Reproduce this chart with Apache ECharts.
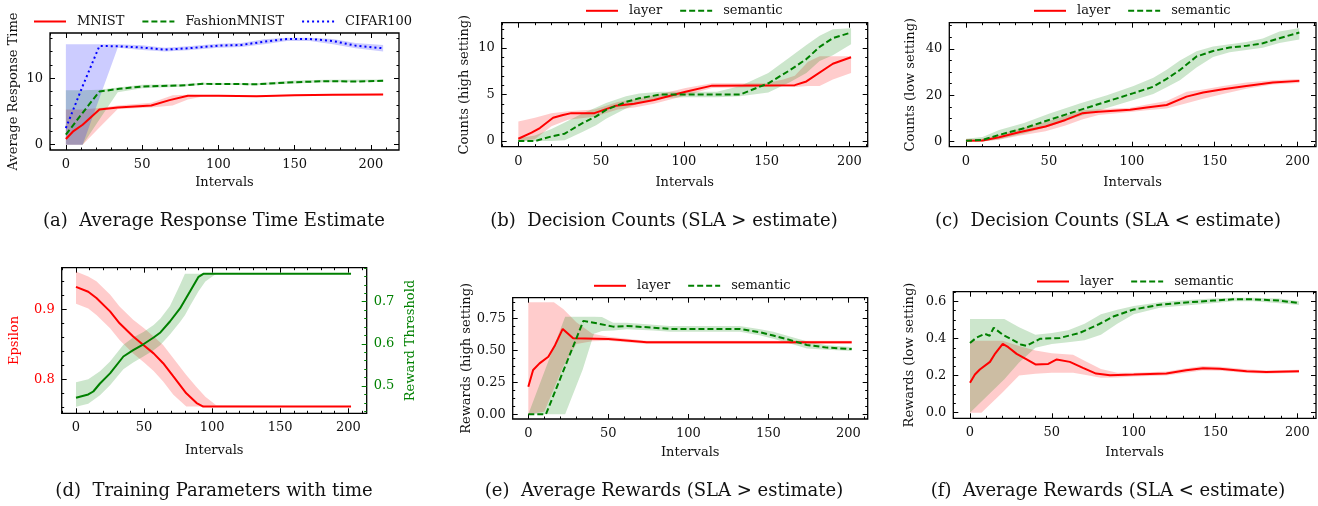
<!DOCTYPE html>
<html><head><meta charset="utf-8">
<script src="https://cdn.jsdelivr.net/npm/echarts@6/dist/echarts.min.js"></script>
<style>html,body{margin:0;padding:0;background:#fff}#c{width:1318px;height:506px}</style>
</head><body><div id="c"></div><script>
// ---------------- DATA ----------------
const xTicks = [0, 50, 100, 150, 200];
const aYTicks = [0, 10];
const bYTicks = [0, 5, 10];
const cYTicks = [0, 20, 40];
const dYTicks = [0.8, 0.9];
const dY2Ticks = [0.5, 0.6, 0.7];
const eYTicks = [0, 0.25, 0.5, 0.75];
const fYTicks = [0, 0.2, 0.4, 0.6];

const aLegend = ['MNIST', 'FashionMNIST', 'CIFAR100'];
const pairLegend = ['layer', 'semantic'];
const captions = [
  '(a)  Average Response Time Estimate',
  '(b)  Decision Counts (SLA > estimate)',
  '(c)  Decision Counts (SLA < estimate)',
  '(d)  Training Parameters with time',
  '(e)  Average Rewards (SLA > estimate)',
  '(f)  Average Rewards (SLA < estimate)'
];

// (a) [interval, value]; bands [interval, low, high]
const aMnist = [[0,0.85],[5,2.05],[11,3.0],[22,5.3],[34,5.6],[56,5.9],[68,6.7],[80,7.35],[100,7.35],[125,7.3],[150,7.45],[175,7.5],[208,7.55]];
const aFashion = [[0,1.5],[11,4.8],[22,8.0],[35,8.4],[50,8.75],[75,8.9],[90,9.15],[125,9.1],[150,9.4],[170,9.55],[190,9.5],[208,9.6]];
const aCifar = [[0,2.5],[11,8.8],[22,14.85],[35,14.8],[50,14.6],[65,14.3],[80,14.5],[100,14.9],[115,15.0],[130,15.5],[145,15.9],[160,15.9],[175,15.6],[190,14.9],[208,14.5]];
const aMnistBand = [[0,0,5.3],[11,0,5.3],[22,2.6,5.5],[34,5.35,5.9],[56,5.6,6.3],[70,5.9,7.45],[80,6.8,7.5],[90,7.25,7.45],[100,7.25,7.45],[125,7.2,7.4],[150,7.35,7.55],[175,7.4,7.6],[208,7.45,7.65]];
const aFashionBand = [[0,0,8.2],[11,0,8.2],[22,3.8,8.25],[34,7.9,8.6],[50,8.5,9.0],[75,8.7,9.1],[90,9.0,9.3],[125,8.95,9.25],[150,9.2,9.65],[170,9.4,9.75],[208,9.45,9.8]];
const aCifarBand = [[0,0,15.1],[11,0,15.1],[22,7.0,15.1],[34,14.6,15.1],[50,14.25,14.95],[65,14.0,14.6],[80,14.2,14.8],[100,14.6,15.2],[115,14.7,15.3],[130,15.1,15.85],[145,15.6,16.1],[160,15.6,16.1],[175,15.1,15.9],[190,14.5,15.3],[208,14.0,15.0]];

// (b)
const bLayer = [[0,0.25],[8,0.9],[13,1.4],[21,2.5],[27,2.8],[32,3.0],[46,3.0],[59,3.8],[70,4.0],[82,4.4],[101,5.3],[117,5.95],[167,6.0],[174,6.4],[190,8.3],[201,9.0]];
const bSemantic = [[0,0],[10,0],[20,0.5],[28,0.8],[39,1.95],[47,2.65],[53,3.35],[65,4.2],[73,4.6],[86,5.0],[134,5.0],[151,6.2],[164,7.6],[174,8.8],[182,10.1],[190,11.05],[201,11.65]];
const bLayerBand = [[0,0,2.1],[10,0.2,2.5],[20,1.6,3.0],[30,2.3,3.2],[46,2.6,3.4],[60,3.4,4.2],[70,3.6,4.5],[82,4.0,4.9],[101,4.9,5.7],[117,5.7,6.2],[150,5.8,6.2],[160,5.85,6.6],[167,5.8,7.0],[175,5.9,8.5],[182,5.9,9.1],[190,6.6,9.1],[201,7.3,9.1]];
const bSemanticBand = [[0,0,0.3],[10,0,0.6],[20,0,1.3],[28,0.1,2.0],[39,1.0,3.0],[47,1.7,3.6],[53,2.4,4.1],[65,3.5,4.8],[73,4.1,5.1],[86,4.6,5.3],[100,4.7,5.3],[120,4.7,5.3],[134,4.8,5.9],[151,5.2,7.3],[164,6.3,9.0],[174,7.3,10.3],[182,8.6,11.3],[190,9.2,12.0],[201,10.4,12.1]];

// (c)
const cLayer = [[0,0.4],[10,0.45],[20,1.9],[32,4.0],[48,6.5],[60,9.35],[70,12.2],[80,12.9],[99,13.7],[109,14.7],[121,15.8],[133,19.4],[143,21.2],[155,22.6],[169,24.0],[185,25.5],[201,26.2]];
const cSemantic = [[0,0.4],[10,0.7],[20,2.9],[35,5.75],[50,9.35],[69,13.7],[85,17.3],[101,20.9],[113,23.7],[121,27.05],[129,30.9],[139,36.7],[149,39.1],[159,40.6],[169,41.3],[179,42.4],[189,44.6],[201,47.05]];
const cLayerBand = [[0,0,0.9],[10,0,1.2],[20,0.8,3.0],[32,2.5,5.5],[48,4.5,8.5],[60,7.0,11.0],[70,9.5,13.5],[80,11.5,14.0],[99,12.8,14.6],[109,13.5,16.0],[121,14.3,17.5],[133,16.5,21.5],[143,18.5,22.5],[155,20.5,24.0],[169,22.8,25.5],[185,24.6,26.5],[201,25.3,27.0]];
const cSemanticBand = [[0,0,1.2],[10,0,2.0],[20,1.0,5.0],[35,3.5,8.0],[50,6.5,12.0],[69,11.0,16.5],[85,14.5,20.0],[101,18.0,24.0],[113,20.5,27.5],[121,23.5,31.0],[129,26.5,35.0],[139,32.0,39.0],[149,36.5,41.0],[159,38.5,42.0],[169,39.5,43.0],[179,40.5,44.5],[189,42.5,47.5],[201,44.0,49.0]];

// (d)
const dEpsilon = [[0,0.932],[9,0.925],[15,0.916],[25,0.897],[32,0.880],[42,0.861],[49.5,0.849],[57,0.837],[64,0.823],[71.5,0.804],[81,0.780],[88.6,0.766],[93.5,0.761],[202,0.761]];
const dThreshold = [[0,0.472],[9,0.480],[12.7,0.487],[17.6,0.506],[25,0.530],[34.8,0.570],[42,0.585],[49.5,0.599],[57,0.615],[62,0.627],[69,0.653],[76.4,0.684],[83.7,0.724],[90,0.759],[93.5,0.766],[202,0.766]];
const dEpsilonBand = [[0,0.908,0.954],[9,0.901,0.947],[15,0.892,0.94],[25,0.873,0.921],[32,0.856,0.904],[42,0.837,0.885],[50,0.824,0.873],[57,0.812,0.861],[64,0.797,0.849],[71.5,0.778,0.830],[81,0.761,0.806],[88,0.761,0.790],[95,0.761,0.775],[103,0.761,0.763],[202,0.761,0.761]];
const dThresholdBand = [[0,0.451,0.509],[9,0.458,0.516],[17.6,0.478,0.535],[25,0.502,0.558],[34.8,0.540,0.598],[42,0.556,0.615],[49.5,0.570,0.628],[57,0.585,0.645],[62,0.597,0.660],[69,0.622,0.690],[76.4,0.652,0.740],[80,0.668,0.766],[83.7,0.690,0.766],[90,0.725,0.766],[95,0.748,0.766],[103,0.766,0.766],[202,0.766,0.766]];

// (e)
const eLayer = [[0,0.216],[3,0.346],[7,0.398],[12.5,0.45],[16.7,0.54],[21.5,0.667],[28,0.594],[50,0.589],[74,0.5625],[202,0.5625]];
const eSemantic = [[0,0],[11,0],[34.4,0.73],[42.7,0.711],[53,0.685],[61.5,0.69],[78,0.677],[88.5,0.667],[132,0.667],[145,0.64],[153,0.615],[165.6,0.573],[174,0.542],[186.5,0.521],[202,0.51]];
const eLayerBand = [[0,0,0.875],[10,0.02,0.875],[16,0.2,0.875],[22,0.38,0.82],[30,0.55,0.72],[40,0.57,0.63],[50,0.575,0.605],[74,0.55,0.575],[202,0.55,0.575]];
const eSemanticBand = [[0,0,0],[23,0,0.763],[34,0.35,0.763],[41,0.63,0.763],[46,0.65,0.76],[53,0.655,0.715],[61.5,0.665,0.715],[78,0.655,0.70],[88.5,0.645,0.69],[132,0.645,0.69],[145,0.615,0.665],[153,0.59,0.645],[165.6,0.545,0.6],[174,0.515,0.57],[186.5,0.505,0.54],[202,0.495,0.525]];

// (f)
const fLayer = [[0,0.161],[3,0.206],[6,0.233],[12.2,0.274],[15,0.314],[20,0.371],[23.4,0.353],[28.5,0.317],[34.6,0.287],[40,0.26],[47.8,0.263],[53,0.287],[61,0.274],[69,0.242],[77,0.211],[85.5,0.2025],[100,0.206],[120,0.211],[132,0.229],[142.4,0.24],[152.6,0.2366],[169,0.224],[181,0.219],[201,0.224]];
const fSemantic = [[0,0.376],[4,0.405],[9,0.425],[12,0.415],[14.5,0.458],[20,0.42],[26,0.393],[31,0.368],[34.5,0.36],[42.7,0.398],[55,0.403],[67,0.43],[79,0.478],[88,0.52],[100,0.556],[116,0.582],[128,0.591],[148.5,0.604],[160.7,0.611],[173,0.611],[189,0.604],[201,0.591]];
const fLayerBand = [[0,0,0.388],[7,0,0.388],[20,0.11,0.388],[30,0.2,0.36],[40,0.21,0.335],[50,0.215,0.32],[63,0.215,0.313],[70,0.205,0.28],[80,0.188,0.235],[90,0.19,0.215],[100,0.195,0.215],[120,0.2,0.222],[132,0.215,0.24],[142,0.228,0.252],[153,0.226,0.248],[169,0.214,0.234],[181,0.21,0.228],[201,0.215,0.232]];
const fSemanticBand = [[0,0,0.505],[21,0.18,0.505],[30,0.27,0.46],[40,0.35,0.42],[50,0.37,0.43],[60,0.38,0.445],[70,0.39,0.48],[80,0.42,0.53],[90,0.48,0.555],[100,0.53,0.575],[116,0.565,0.595],[128,0.575,0.605],[148,0.59,0.615],[161,0.6,0.62],[173,0.6,0.62],[189,0.59,0.615],[201,0.58,0.6]];

// ---------------- STYLE / LAYOUT ----------------
const FONT = 'DejaVu Serif';
const TXT = '#111';
const RED = '#ff0000', GREEN = '#008000', BLUE = '#0000ff';
const RED_F = 'rgba(255,0,0,0.2)', GREEN_F = 'rgba(0,128,0,0.2)', BLUE_F = 'rgba(0,0,255,0.2)';
const DASH = [6, 3], DOT = [2, 3];

const grids = [], xAxes = [], yAxes = [], series = [], legends = [], graphics = [];

function minorVals(min, max, step, majors) {
  const out = [];
  const s = Math.ceil(min / step - 1e-9), e = Math.floor(max / step + 1e-9);
  for (let k = s; k <= e; k++) {
    const v = +(k * step).toFixed(6);
    if (!majors.some(m => Math.abs(m - v) < step * 1e-3)) out.push(v);
  }
  return out;
}

function mkAxis(gi, pos, ext, vals, o) {
  const ax = {
    type: 'value', gridIndex: gi, position: pos, min: ext[0], max: ext[1],
    axisLine: { show: false, onZero: false },
    splitLine: { show: false },
    axisTick: { show: true, inside: true, length: o.len, customValues: vals,
      lineStyle: { color: o.tickColor || '#000', width: 1 } },
    axisLabel: { show: !!o.labels, customValues: vals, margin: o.margin || 7,
      formatter: o.fmt, color: o.labelColor || TXT, fontFamily: FONT, fontSize: 13 },
    silent: true
  };
  if (o.name) {
    ax.name = o.name; ax.nameLocation = 'middle'; ax.nameGap = o.nameGap;
    ax.nameTextStyle = { fontFamily: FONT, fontSize: 13, color: o.nameColor || TXT };
  }
  return ax;
}

function addAxesX(gi, ext, majors, minorStep, nameGap) {
  const mn = minorVals(ext[0], ext[1], minorStep, majors);
  const idx = xAxes.length;
  xAxes.push(mkAxis(gi, 'bottom', ext, majors, { len: 5, labels: true, margin: 8, fmt: v => String(v), name: 'Intervals', nameGap }));
  xAxes.push(mkAxis(gi, 'bottom', ext, mn, { len: 2.5 }));
  xAxes.push(mkAxis(gi, 'top', ext, majors, { len: 5 }));
  xAxes.push(mkAxis(gi, 'top', ext, mn, { len: 2.5 }));
  return idx;
}
function addAxesY(gi, pos, ext, majors, minorStep, fmt, name, nameGap, color, mirror) {
  const mn = minorVals(ext[0], ext[1], minorStep, majors);
  const idx = yAxes.length;
  yAxes.push(mkAxis(gi, pos, ext, majors, { len: 5, labels: true, fmt, name, nameGap,
    labelColor: color, nameColor: color, tickColor: pos === 'right' ? color : '#000' }));
  yAxes.push(mkAxis(gi, pos, ext, mn, { len: 2.5, tickColor: pos === 'right' ? color : '#000' }));
  if (mirror) {
    yAxes.push(mkAxis(gi, 'right', ext, majors, { len: 5 }));
    yAxes.push(mkAxis(gi, 'right', ext, mn, { len: 2.5 }));
  }
  return idx;
}

function band(rows, xi, yi, color) {
  series.push({
    type: 'custom', xAxisIndex: xi, yAxisIndex: yi, silent: true, z: 1,
    data: rows, encode: { x: 0, y: [1, 2] }, clip: true,
    renderItem: function (params, api) {
      if (params.dataIndex !== 0) return null;
      const up = rows.map(r => api.coord([r[0], r[2]]));
      const dn = rows.slice().reverse().map(r => api.coord([r[0], r[1]]));
      return { type: 'polygon', shape: { points: up.concat(dn) }, style: { fill: color } };
    }
  });
}
function line(data, xi, yi, color, type, name) {
  series.push({
    type: 'line', name: name, xAxisIndex: xi, yAxisIndex: yi, data: data,
    symbol: 'none', showSymbol: false, z: 3, clip: true,
    lineStyle: { color: color, width: 2, type: type },
    itemStyle: { color: color }
  });
}
function legend(names, left, cy) {
  legends.push({
    data: names, left: left, top: cy - 5, padding: 0, itemWidth: 32, itemHeight: 10, itemGap: 17,
    selectedMode: false,
    itemStyle: { opacity: 0, borderWidth: 0 },
    lineStyle: { width: 2 },
    textStyle: { fontFamily: FONT, fontSize: 13, color: TXT, padding: [0, 0, 0, 6] }
  });
}
function caption(text, cx, cy) {
  graphics.push({ type: 'text', x: cx, y: cy, silent: true,
    style: { text: text, x: 0, y: 0, textAlign: 'center', textVerticalAlign: 'middle',
      font: '18px "' + FONT + '"', fill: TXT } });
}
const fmt0 = v => String(v);
const fmt1 = v => v.toFixed(1);
const fmt2 = v => v.toFixed(2);

// (a)
grids.push({ left: 50, top: 33, width: 349, height: 117 });
let xi = addAxesX(0, [-10.4, 218.4], xTicks, 10, 26);
let yi = addAxesY(0, 'left', [-0.8, 16.8], aYTicks, 2, fmt0, 'Average Response Time', 30, TXT, true);
band(aMnistBand, xi, yi, RED_F); band(aFashionBand, xi, yi, GREEN_F); band(aCifarBand, xi, yi, BLUE_F);
line(aMnist, xi, yi, RED, 'solid', aLegend[0]);
line(aFashion, xi, yi, GREEN, DASH, aLegend[1]);
line(aCifar, xi, yi, BLUE, DOT, aLegend[2]);
legend(aLegend, 33, 20);

// (b)
grids.push({ left: 501.7, top: 22.7, width: 366, height: 124 });
xi = addAxesX(1, [-10.05, 211.05], xTicks, 10, 29.5);
yi = addAxesY(1, 'left', [-0.6, 12.7], bYTicks, 1, fmt0, 'Counts (high setting)', 31, TXT, true);
band(bLayerBand, xi, yi, RED_F); band(bSemanticBand, xi, yi, GREEN_F);
line(bLayer, xi, yi, RED, 'solid', pairLegend[0]);
line(bSemantic, xi, yi, GREEN, DASH, pairLegend[1]);
legend(pairLegend, 585, 9.3);

// (c)
grids.push({ left: 949.3, top: 22.7, width: 366.7, height: 124 });
xi = addAxesX(2, [-10.05, 211.05], xTicks, 10, 29.5);
yi = addAxesY(2, 'left', [-2.2, 51.3], cYTicks, 5, fmt0, 'Counts (low setting)', 32, TXT, true);
band(cLayerBand, xi, yi, RED_F); band(cSemanticBand, xi, yi, GREEN_F);
line(cLayer, xi, yi, RED, 'solid', pairLegend[0]);
line(cSemantic, xi, yi, GREEN, DASH, pairLegend[1]);
legend(pairLegend, 1033, 9.3);

// (d)
grids.push({ left: 61.7, top: 267.7, width: 305, height: 145.6 });
xi = addAxesX(3, [-10.5, 213.5], xTicks, 10, 31);
yi = addAxesY(3, 'left', [0.7514, 0.9594], dYTicks, 0.02, fmt1, 'Epsilon', 41, RED, false);
let yi2 = addAxesY(3, 'right', [0.4353, 0.7806], dY2Ticks, 0.02, fmt1, 'Reward Threshold', 37.5, GREEN, false);
band(dEpsilonBand, xi, yi, RED_F); band(dThresholdBand, xi, yi2, GREEN_F);
line(dEpsilon, xi, yi, RED, 'solid', 'Epsilon');
line(dThreshold, xi, yi2, GREEN, 'solid', 'Reward Threshold');

// (e)
grids.push({ left: 512.7, top: 297.7, width: 355, height: 121.3 });
xi = addAxesX(4, [-9.75, 212], xTicks, 10, 27);
yi = addAxesY(4, 'left', [-0.0367, 0.911], eYTicks, 0.0625, fmt2, 'Rewards (high setting)', 39.5, TXT, true);
band(eLayerBand, xi, yi, RED_F); band(eSemanticBand, xi, yi, GREEN_F);
line(eLayer, xi, yi, RED, 'solid', pairLegend[0]);
line(eSemantic, xi, yi, GREEN, DASH, pairLegend[1]);
legend(pairLegend, 593, 284.3);

// (f)
grids.push({ left: 953.3, top: 291.7, width: 362.7, height: 126.6 });
xi = addAxesX(5, [-10.2, 211.4], xTicks, 10, 27.5);
yi = addAxesY(5, 'left', [-0.03, 0.652], fYTicks, 0.05, fmt1, 'Rewards (low setting)', 37, TXT, true);
band(fLayerBand, xi, yi, RED_F); band(fSemanticBand, xi, yi, GREEN_F);
line(fLayer, xi, yi, RED, 'solid', pairLegend[0]);
line(fSemantic, xi, yi, GREEN, DASH, pairLegend[1]);
legend(pairLegend, 1036, 280);

grids.forEach(g => { g.show = true; g.borderColor = '#000'; g.borderWidth = 1.3; g.backgroundColor = 'transparent'; g.containLabel = false; });

const capX = [214, 664, 1108];
captions.forEach((t, i) => caption(t, capX[i % 3], i < 3 ? 221 : 491));

const chart = echarts.init(document.getElementById('c'), null, { renderer: 'canvas' });
chart.setOption({
  animation: false,
  backgroundColor: '#fff',
  grid: grids, xAxis: xAxes, yAxis: yAxes, series: series, legend: legends,
  graphic: graphics
});
</script></body></html>
